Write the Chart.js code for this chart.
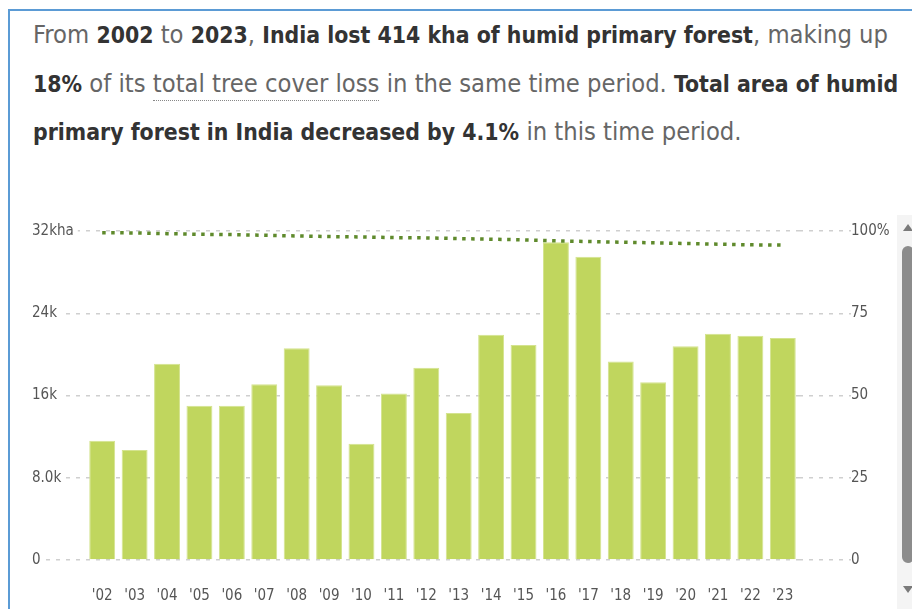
<!DOCTYPE html>
<html>
<head>
<meta charset="utf-8">
<script src="https://cdn.jsdelivr.net/npm/chart.js@4.4.0/dist/chart.umd.min.js"></script>
<style>
  html, body { margin: 0; padding: 0; background: #fff; width: 912px; height: 609px; overflow: hidden; }
  body { position: relative; }
  #frame { position: absolute; left: 8px; top: 9px; width: 920px; height: 620px; border-left: 2px solid #5b9bd5; border-top: 2px solid #5b9bd5; box-sizing: border-box; }
  #title { position: absolute; left: 33px; top: 11px; width: 880px; font-family: 'DejaVu Sans Condensed', 'Liberation Sans Narrow', 'DejaVu Sans', sans-serif; font-size: 25.3px; line-height: 48.5px; color: #666; white-space: nowrap; }
  #title b { color: #333; font-weight: bold; font-size: 22.8px; }
  #title .u { border-bottom: 1px dotted #888; padding-bottom: 2px; }
  #chartbox { position: absolute; left: 0; top: 200px; width: 912px; height: 409px; }
  #track { position: absolute; left: 897px; top: 215px; width: 15px; height: 394px; background: #f4f4f4; }
  #thumb { position: absolute; left: 902px; top: 246px; width: 12px; height: 317px; background: #8c8c8c; border-radius: 6px; }
  .arr { position: absolute; left: 903px; width: 0; height: 0; border-left: 5px solid transparent; border-right: 5px solid transparent; }
  #up { top: 224px; border-bottom: 7px solid #7a7a7a; }
  #down { top: 586px; border-top: 7px solid #7a7a7a; }
</style>
</head>
<body>
<div id="frame"></div>
<div id="title">From <b>2002</b> to <b>2023</b>, <b>India lost 414 kha of humid primary forest</b>, making up<br><b>18%</b> of its <span class="u">total tree cover loss</span> in the same time period. <b>Total area of humid</b><br><b>primary forest in India decreased by 4.1%</b> in this time period.</div>
<div id="track"></div>
<div id="thumb"></div>
<div id="up" class="arr"></div>
<div id="down" class="arr"></div>
<div id="chartbox"><canvas id="c" width="912" height="409"></canvas></div>
<script>
const years = ["'02","'03","'04","'05","'06","'07","'08","'09","'10","'11","'12","'13","'14","'15","'16","'17","'18","'19","'20","'21","'22","'23"];
const lossKha = [11.6, 10.7, 19.1, 15.0, 15.0, 17.1, 20.6, 17.0, 11.3, 16.2, 18.7, 14.3, 21.9, 20.9, 30.9, 29.5, 19.3, 17.3, 20.8, 22.0, 21.8, 21.6];
const remainingPct = [99.5, 99.4, 99.2, 99.0, 98.9, 98.7, 98.5, 98.3, 98.2, 98.0, 97.9, 97.7, 97.5, 97.3, 97.0, 96.8, 96.6, 96.4, 96.2, 96.0, 95.8, 95.7];
const leftTicks = [0, 8, 16, 24, 32];
const leftTickLabels = ["0", "8.0k", "16k", "24k", "32kha"];
const rightTicks = [0, 25, 50, 75, 100];
const rightTickLabels = ["0", "25", "50", "75", "100%"];

const FONT = "'DejaVu Sans Condensed', 'Liberation Sans Narrow', 'DejaVu Sans', sans-serif";
const lossValues = lossKha.map(v => v * 1000);

new Chart(document.getElementById('c'), {
  data: {
    labels: years,
    datasets: [
      {
        type: 'line',
        data: remainingPct,
        yAxisID: 'y1',
        borderColor: '#5f8a2c',
        borderWidth: 3.5,
        borderDash: [3.5, 5.5],
        borderCapStyle: 'butt',
        pointRadius: 0,
        tension: 0,
        fill: false,
        order: 0
      },
      {
        type: 'bar',
        data: lossValues,
        yAxisID: 'y',
        backgroundColor: '#c0d65e',
        borderColor: '#d4e38f',
        borderWidth: 1,
        barPercentage: 0.8,
        categoryPercentage: 1.0,
        order: 1
      }
    ]
  },
  options: {
    responsive: false,
    animation: false,
    devicePixelRatio: 1,
    layout: { padding: { left: 32, top: 31, right: 0, bottom: 0 } },
    plugins: { legend: { display: false }, tooltip: { enabled: false } },
    scales: {
      x: {
        grid: { display: false, drawTicks: false },
        border: { display: false },
        ticks: { color: '#555', font: { family: FONT, size: 15 }, padding: 27, maxRotation: 0, autoSkip: false },
        afterFit: s => { s.height = 49; }
      },
      y: {
        position: 'left',
        min: 0, max: 32000,
        afterBuildTicks: s => { s.ticks = leftTicks.map(v => ({ value: v * 1000 })); },
        ticks: {
          color: '#555',
          font: { family: FONT, size: 15 },
          crossAlign: 'far',
          padding: 0,
          showLabelBackdrop: true,
          backdropColor: '#ffffff',
          backdropPadding: { left: 0, right: 4, top: 0, bottom: 0 },
          callback: (v) => leftTickLabels[leftTicks.indexOf(v / 1000)]
        },
        grid: { color: '#cfcfcf', lineWidth: 1.5, tickLength: 50, tickColor: '#cfcfcf', tickBorderDash: [4, 6] },
        border: { display: false, dash: [4, 6] },
        afterFit: s => { s.width = 54; }
      },
      y1: {
        position: 'right',
        min: 0, max: 100,
        afterBuildTicks: s => { s.ticks = rightTicks.map(v => ({ value: v })); },
        ticks: {
          color: '#555',
          font: { family: FONT, size: 15 },
          padding: 0,
          callback: (v) => rightTickLabels[rightTicks.indexOf(v)]
        },
        grid: { drawOnChartArea: false, color: '#cfcfcf', lineWidth: 1.5, tickLength: 52, tickColor: '#cfcfcf', tickBorderDash: [4, 6] },
        border: { display: false, dash: [4, 6] },
        afterFit: s => { s.width = 113; }
      }
    }
  }
});
</script>
</body>
</html>
